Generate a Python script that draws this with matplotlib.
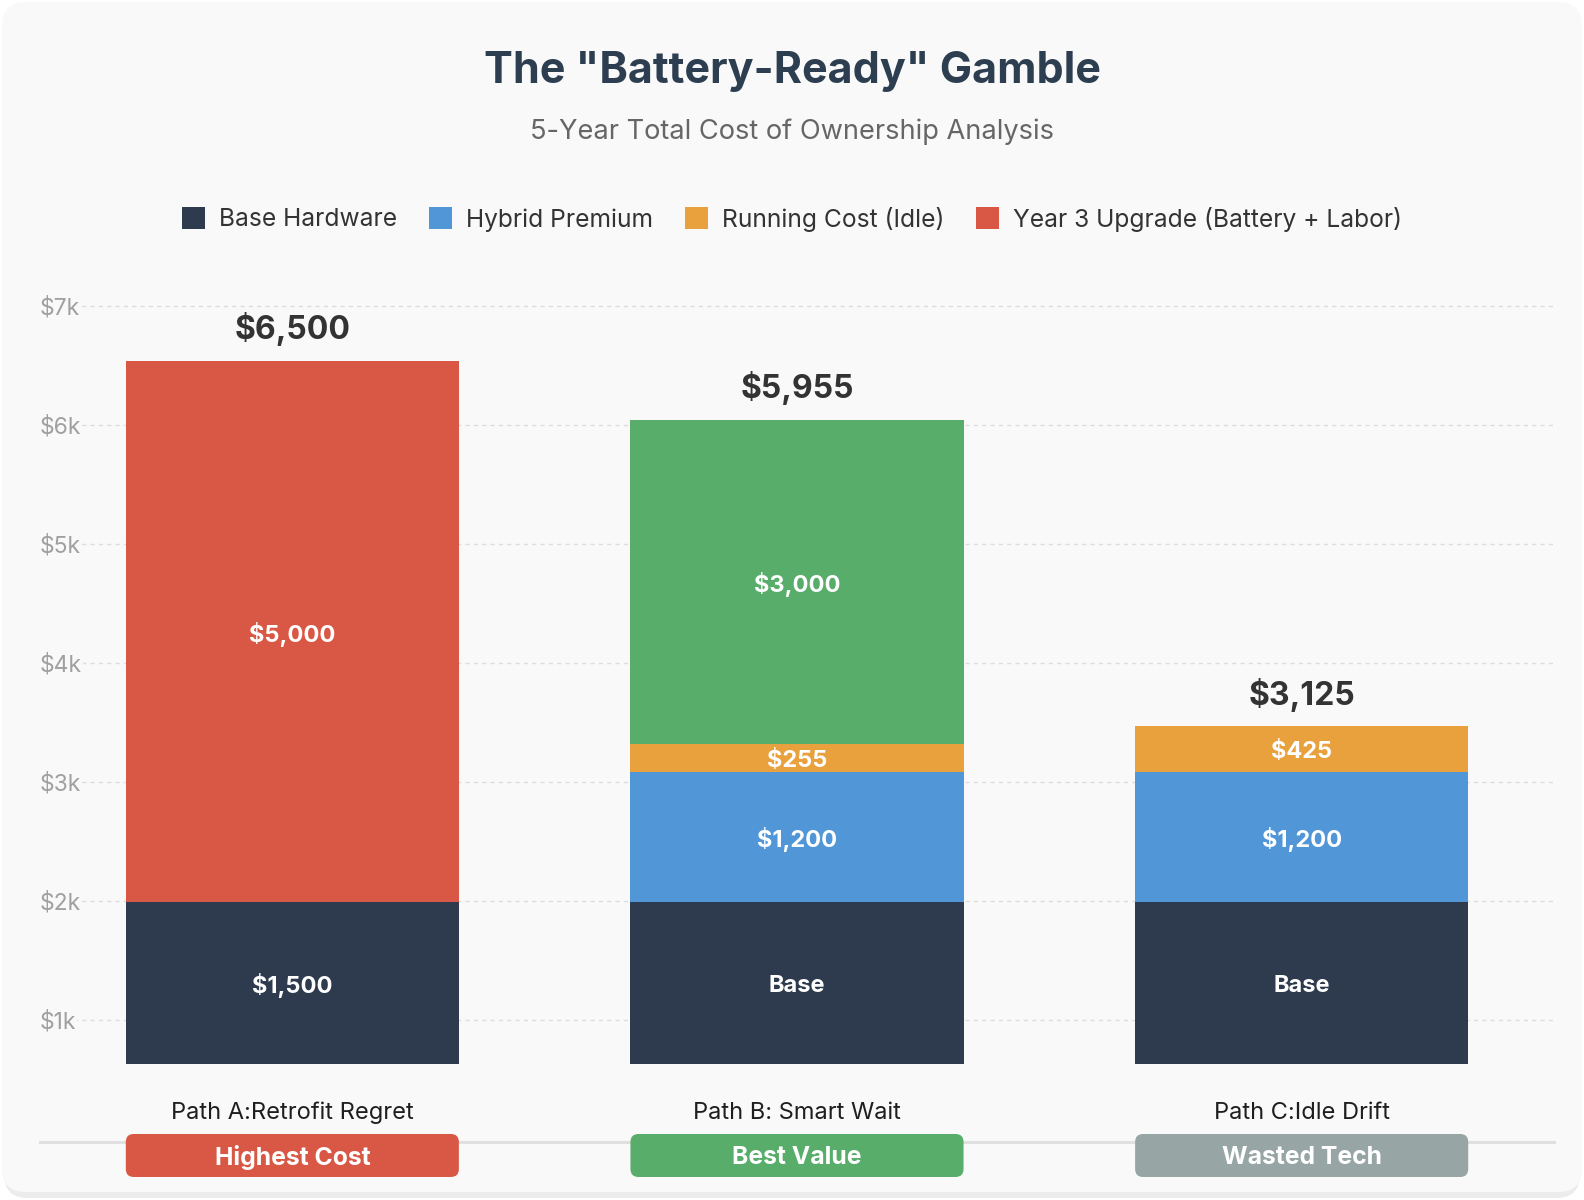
import numpy as np
import matplotlib
matplotlib.use("Agg")
import matplotlib.pyplot as plt
from matplotlib.patches import FancyBboxPatch, Patch

plt.rcParams['font.family'] = ['Inter', 'DejaVu Sans']

# data
paths = ["Path A:Retrofit Regret", "Path B: Smart Wait", "Path C:Idle Drift"]
badges = ["Highest Cost", "Best Value", "Wasted Tech"]
base_hw = [1500, 1500, 1500]
base_labels = ["$1,500", "Base", "Base"]
hybrid = [0, 1200, 1200]
running = [0, 255, 425]
upgrade = [5000, 3000, 0]
totals = [a + b + c + d for a, b, c, d in zip(base_hw, hybrid, running, upgrade)]
ytick_vals = [1000, 2000, 3000, 4000, 5000, 6000, 7000]
ytick_labels = ["$1k", "$2k", "$3k", "$4k", "$5k", "$6k", "$7k"]
legend_labels = ["Base Hardware", "Hybrid Premium", "Running Cost (Idle)",
                 "Year 3 Upgrade (Battery + Labor)"]

# colours
c_base = "#2e3b4e"
c_hybrid = "#5196d6"
c_run = "#e8a13c"
c_red = "#d95845"
c_green = "#58ad6a"
c_gray = "#97a5a5"
upgrade_colors = [c_red, c_green, c_green]
badge_colors = [c_red, c_green, c_gray]

W, H = 1584, 1200
fig = plt.figure(figsize=(W / 100, H / 100), dpi=100)
fig.patch.set_facecolor("#ffffff")

# card background
shadow = FancyBboxPatch((4 / W, 2 / H), 1576 / W, 1190 / H,
                        boxstyle="round,pad=0,rounding_size=0.015",
                        transform=fig.transFigure, fc="#ececec", ec="none",
                        zorder=-3, mutation_aspect=W / H)
card = FancyBboxPatch((2 / W, 8 / H), 1580 / W, 1190 / H,
                      boxstyle="round,pad=0,rounding_size=0.015",
                      transform=fig.transFigure, fc="#f9f9f9", ec="none",
                      zorder=-2, mutation_aspect=W / H)
fig.patches.extend([shadow, card])

# axes geometry (pixels)
ax_left, ax_right = 40, 1554
ax_bot, ax_top = 1142, 270
ax = fig.add_axes([ax_left / W, 1 - ax_bot / H,
                   (ax_right - ax_left) / W, (ax_bot - ax_top) / H])
ax.set_facecolor("none")

# grid axis
ax.set_ylim(-25, 7303)
ax.set_xlim(-0.5, 2.5)
ax.set_yticks(ytick_vals)
ax.set_yticklabels(ytick_labels)
ax.set_xticks([])
ax.tick_params(axis="y", length=0, pad=0, labelsize=16.5, labelcolor="#a0a0a0")
for lbl in ax.get_yticklabels():
    lbl.set_ha("left")
    lbl.set_bbox(dict(fc="#f9f9f9", ec="none", pad=0.5))
ax.yaxis.grid(True, linestyle=(0, (3, 3)), color="#dddddd", linewidth=1)
for s in ["top", "right", "left"]:
    ax.spines[s].set_visible(False)
ax.spines["bottom"].set_color("#e0e0e0")
ax.spines["bottom"].set_linewidth(2.2)

# bar axis
ax2 = ax.twinx()
ax2.set_ylim(-721, 7338)
ax2.set_xlim(-0.5, 2.5)
ax2.set_yticks([])
for s in ax2.spines.values():
    s.set_visible(False)

x = np.arange(len(paths))
bw = 0.66
ax2.bar(x, base_hw, bw, color=c_base)
ax2.bar(x, hybrid, bw, bottom=base_hw, color=c_hybrid)
bot3 = [a + b for a, b in zip(base_hw, hybrid)]
ax2.bar(x, running, bw, bottom=bot3, color=c_run)
bot4 = [a + b for a, b in zip(bot3, running)]
ax2.bar(x, upgrade, bw, bottom=bot4, color=upgrade_colors)

px_x = (ax_right - ax_left) / 3.0
px_y = (ax_bot - ax_top) / (7338 + 721)
dy = -3 / px_y  # nudge labels down a touch

lab_kw = dict(ha="center", va="center", color="white", fontsize=17, fontweight="bold")
for i in x:
    ax2.text(i, base_hw[i] / 2 + dy, base_labels[i], **lab_kw)
    if hybrid[i]:
        ax2.text(i, base_hw[i] + hybrid[i] / 2 + dy, f"${hybrid[i]:,}", **lab_kw)
    if running[i]:
        ax2.text(i, bot3[i] + running[i] / 2 + dy, f"${running[i]:,}", **lab_kw)
    if upgrade[i]:
        ax2.text(i, bot4[i] + upgrade[i] / 2 + dy, f"${upgrade[i]:,}", **lab_kw)
    ax2.annotate(f"${totals[i]:,}", (i, totals[i]), xytext=(0, 22.5),
                 textcoords="offset points", ha="center", va="center",
                 fontsize=23, fontweight="bold", color="#333333")

# category labels and badges
r_px = 8
for i in x:
    ax2.text(i, -49 / px_y, paths[i], ha="center", va="center",
             fontsize=17, color="#1e1e1e")
    y0 = -113 / px_y
    hgt = 43 / px_y
    badge = FancyBboxPatch((i - bw / 2, y0), bw, hgt,
                           boxstyle=f"round,pad=0,rounding_size={r_px / px_x}",
                           mutation_aspect=(1 / px_y) / (1 / px_x),
                           fc=badge_colors[i], ec="none", clip_on=False, zorder=5)
    ax2.add_patch(badge)
    ax2.text(i, y0 + hgt / 2 - 2 / px_y, badges[i], ha="center", va="center",
             fontsize=17.8, fontweight="bold", color="white", zorder=6, clip_on=False)

# legend
handles = [Patch(fc=c, ec="none", label=l)
           for c, l in zip([c_base, c_hybrid, c_run, c_red], legend_labels)]
fig.legend(handles=handles, loc="center", bbox_to_anchor=(0.5, 1 - 219 / H),
           ncol=4, frameon=False, fontsize=17.7, handlelength=0.95, handleheight=0.95,
           handletextpad=0.55, columnspacing=1.3, labelcolor="#333333")

fig.text(0.5, 1 - 72 / H, 'The "Battery-Ready" Gamble', ha="center", va="center",
         fontsize=31, fontweight="bold", color="#2c3e50")
fig.text(0.5, 1 - 132 / H, "5-Year Total Cost of Ownership Analysis", ha="center",
         va="center", fontsize=19.6, color="#666666")

fig.savefig("out.png", dpi=100, facecolor=fig.get_facecolor())
